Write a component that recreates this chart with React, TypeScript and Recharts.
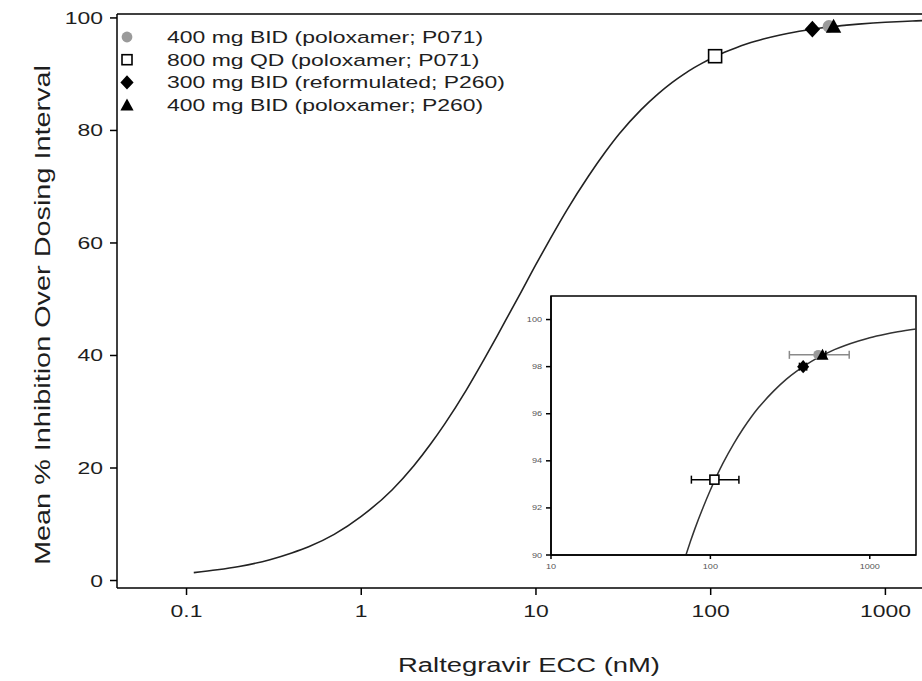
import React from "react";
import {
  ComposedChart,
  ErrorBar,
  Line,
  ReferenceArea,
  ReferenceLine,
  Scatter,
  XAxis,
  YAxis,
} from "recharts";

// fitted Emax curve (conc in nM, % inhibition)
const curveConc = [
  0.11, 0.15, 0.2, 0.3, 0.4, 0.5, 0.7, 1, 1.5, 2, 2.5, 3, 4, 5, 6, 7, 8, 10, 12, 15, 20, 25, 30, 40,
  50, 60, 70, 75, 80, 90, 100, 110, 120, 140, 160, 180, 200, 250, 300, 350, 400, 450, 500, 600, 700,
  850, 1000, 1250, 1500, 2000,
];
const curveInhib = [
  1.4, 1.9, 2.5, 3.7, 4.9, 6.0, 8.2, 11.4, 16.1, 20.4, 24.3, 27.8, 33.9, 39.1, 43.5, 47.3, 50.6, 56.2,
  60.6, 65.8, 71.9, 76.2, 79.4, 83.7, 86.5, 88.5, 89.97, 90.58, 91.12, 92.02, 92.76, 93.38, 93.9,
  94.72, 95.35, 95.85, 96.25, 96.97, 97.47, 97.82, 98.09, 98.3, 98.46, 98.72, 98.9, 99.09, 99.23,
  99.38, 99.48, 99.61,
];

// observed regimens
const pointLabels = [
  "400 mg BID (poloxamer; P071)",
  "800 mg QD (poloxamer; P071)",
  "300 mg BID (reformulated; P260)",
  "400 mg BID (poloxamer; P260)",
];
const pointConc = [475, 106, 382, 505];
const pointInhib = [98.5, 93.2, 98.0, 98.5];
const pointConcLow = [313, 76, 362, 482];
const pointConcHigh = [743, 151, 402, 530];
const errColors = ["#8a8a8a", "#000", "#000", "#000"];

const mainXTicks = [0.1, 1, 10, 100, 1000];
const mainYTicks = [0, 20, 40, 60, 80, 100];
const insetXTicks = [10, 100, 1000];
const insetYTicks = [90, 92, 94, 96, 98, 100];

const FONT = "'Liberation Sans', Arial, sans-serif";
const INK = "#1e1e1e";

const curve = curveConc.map((x, i) => ({ x, y: curveInhib[i] }));
const insetCurve = curve.filter((d) => d.x >= 70);
const points = pointConc.map((x, i) => ({
  x,
  y: pointInhib[i],
  ex: [x - pointConcLow[i], pointConcHigh[i] - x],
}));

// the source figure is stretched sideways, so text is too
function SText({ x, y, size = 17, sx = 1.35, anchor = "start", fill = INK, children }: any) {
  return (
    <text
      transform={`translate(${x},${y}) scale(${sx},1)`}
      fontSize={size}
      fontFamily={FONT}
      textAnchor={anchor}
      fill={fill}
    >
      {children}
    </text>
  );
}

function Marker({ kind, cx, cy, s }: { kind: number; cx: number; cy: number; s: number }) {
  if (kind === 0) return <circle cx={cx} cy={cy} r={s * 0.45} fill="#9a9a9a" />;
  if (kind === 1)
    return (
      <rect
        x={cx - s / 2}
        y={cy - s / 2}
        width={s}
        height={s}
        fill="#fff"
        stroke="#000"
        strokeWidth={1.6}
      />
    );
  if (kind === 2)
    return (
      <polygon
        points={`${cx},${cy - s * 0.6} ${cx + s * 0.55},${cy} ${cx},${cy + s * 0.6} ${cx - s * 0.55},${cy}`}
        fill="#000"
      />
    );
  return (
    <polygon
      points={`${cx},${cy - s * 0.55} ${cx + s * 0.55},${cy + s * 0.45} ${cx - s * 0.55},${cy + s * 0.45}`}
      fill="#000"
    />
  );
}

const MainXTick = ({ x, y, payload }: any) => (
  <SText x={x} y={y + 20} anchor="middle">
    {payload.value}
  </SText>
);
const MainYTick = ({ x, y, payload }: any) => (
  <SText x={x - 5} y={y + 6} anchor="end">
    {payload.value}
  </SText>
);
const InsetXTick = ({ x, y, payload }: any) => (
  <SText x={x} y={y + 8} size={7} sx={1.3} anchor="middle" fill="#555">
    {payload.value}
  </SText>
);
const InsetYTick = ({ x, y, payload }: any) => (
  <SText x={x - 2} y={y + 2.5} size={7} sx={1.3} anchor="end" fill="#555">
    {payload.value}
  </SText>
);

const AXIS = {
  axisLine: { stroke: "#000", strokeWidth: 1.5 },
  tickLine: { stroke: "#000", strokeWidth: 1.5 },
  allowDataOverflow: true,
  type: "number" as const,
};

export default function App() {
  return (
    <div
      style={{
        position: "absolute",
        left: 0,
        top: 0,
        width: 922,
        height: 681,
        overflow: "hidden",
        background: "#fff",
      }}
    >
      <ComposedChart width={940} height={681} margin={{ top: 14, right: 2, bottom: 0, left: 0 }}>
        <XAxis
          {...AXIS}
          dataKey="x"
          scale="log"
          domain={[0.04, 2000]}
          ticks={mainXTicks}
          tickSize={7}
          height={93}
          tick={<MainXTick />}
        />
        <YAxis
          {...AXIS}
          dataKey="y"
          domain={[-1.33, 100.7]}
          ticks={mainYTicks}
          tickSize={7}
          width={117}
          tick={<MainYTick />}
        />
        <ReferenceLine y={100.7} stroke="#000" strokeWidth={1.5} />
        <Line
          data={curve}
          dataKey="y"
          type="monotone"
          stroke="#222"
          strokeWidth={1.6}
          dot={false}
          isAnimationActive={false}
        />
        {points.map((p, i) => (
          <Scatter
            key={i}
            data={[p]}
            isAnimationActive={false}
            shape={(s: any) => <Marker kind={i} cx={s.cx} cy={s.cy} s={i === 1 ? 13 : 14} />}
          />
        ))}
      </ComposedChart>

      {/* inset: zoom on the upper plateau */}
      <div
        style={{
          position: "absolute",
          left: 551,
          top: 296,
          width: 365,
          height: 259,
          background: "#fff",
        }}
      />
      <div style={{ position: "absolute", left: 500, top: 280 }}>
        <ComposedChart width={430} height={300} margin={{ top: 16, right: 14, bottom: 0, left: 0 }}>
          <XAxis
            {...AXIS}
            dataKey="x"
            scale="log"
            domain={[10, 1950]}
            ticks={insetXTicks}
            tickSize={4}
            height={25}
            tick={<InsetXTick />}
          />
          <YAxis
            {...AXIS}
            dataKey="y"
            domain={[90, 101]}
            ticks={insetYTicks}
            tickSize={5}
            width={51}
            tick={<InsetYTick />}
          />
          <ReferenceArea x1={10} x2={1950} y1={90} y2={101} fill="none" stroke="#000" strokeWidth={1.5} />
          <Line
            data={insetCurve}
            dataKey="y"
            type="monotone"
            stroke="#333"
            strokeWidth={1.5}
            dot={false}
            isAnimationActive={false}
          />
          {points.map((p, i) => (
            <Scatter
              key={i}
              data={[p]}
              isAnimationActive={false}
              shape={(s: any) => <Marker kind={i} cx={s.cx} cy={s.cy} s={i === 1 ? 9 : 11} />}
            >
              <ErrorBar dataKey="ex" direction="x" width={4} stroke={errColors[i]} strokeWidth={1.5} />
            </Scatter>
          ))}
        </ComposedChart>
      </div>

      {/* legend and axis titles */}
      <svg
        width={922}
        height={681}
        style={{ position: "absolute", left: 0, top: 0, pointerEvents: "none" }}
      >
        {pointLabels.map((label, i) => {
          const cy = 37 + i * 22.7;
          return (
            <g key={label}>
              <Marker kind={i} cx={127} cy={cy} s={i === 1 ? 10 : 12} />
              <SText x={167} y={cy + 6}>
                {label}
              </SText>
            </g>
          );
        })}
        <text
          x={529}
          y={672}
          fontSize={20}
          fontFamily={FONT}
          fill={INK}
          textAnchor="middle"
          textLength={262}
          lengthAdjust="spacingAndGlyphs"
        >
          Raltegravir ECC (nM)
        </text>
        <text
          transform="translate(50,315) rotate(-90)"
          fontSize={22}
          fontFamily={FONT}
          fill={INK}
          textAnchor="middle"
          textLength={500}
          lengthAdjust="spacingAndGlyphs"
        >
          Mean % Inhibition Over Dosing Interval
        </text>
      </svg>
    </div>
  );
}
